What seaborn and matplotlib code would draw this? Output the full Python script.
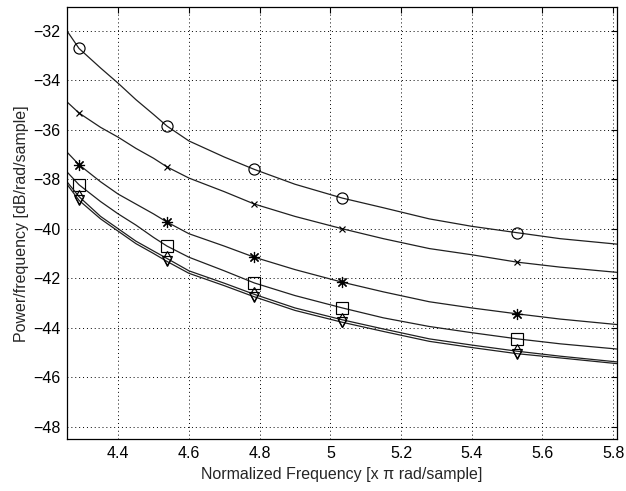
import numpy as np
import pandas as pd
import matplotlib
matplotlib.use("Agg")
import matplotlib.pyplot as plt
import seaborn as sns

# Frequency points (x pi rad/sample)
freq = [4.255, 4.289, 4.35, 4.40, 4.45, 4.50, 4.538, 4.60, 4.70, 4.785,
        4.90, 5.034, 5.15, 5.28, 5.40, 5.529, 5.65, 5.81]

# PSD curves (dB/rad/sample)
psd_circle = [-32.0, -32.71, -33.5, -34.12, -34.78, -35.38, -35.85, -36.45, -37.1, -37.6,
              -38.2, -38.76, -39.15, -39.6, -39.9, -40.16, -40.4, -40.62]
psd_x = [-34.87, -35.32, -35.9, -36.3, -36.75, -37.15, -37.5, -37.95, -38.5, -39.0,
         -39.5, -40.0, -40.4, -40.8, -41.05, -41.35, -41.55, -41.76]
psd_star = [-36.9, -37.41, -38.1, -38.6, -39.0, -39.4, -39.73, -40.2, -40.7, -41.15,
            -41.65, -42.16, -42.55, -42.95, -43.2, -43.44, -43.65, -43.87]
psd_square = [-37.7, -38.22, -38.9, -39.4, -39.85, -40.35, -40.7, -41.15, -41.7, -42.19,
              -42.7, -43.2, -43.6, -43.95, -44.2, -44.45, -44.65, -44.86]
psd_diamond = [-38.1, -38.7, -39.5, -40.0, -40.5, -40.9, -41.2, -41.7, -42.2, -42.65,
               -43.2, -43.68, -44.05, -44.45, -44.7, -44.95, -45.15, -45.38]
psd_triangle = [-38.2, -38.85, -39.6, -40.1, -40.6, -41.0, -41.32, -41.8, -42.3, -42.75,
                -43.3, -43.78, -44.15, -44.55, -44.8, -45.05, -45.22, -45.45]

series = [
    (psd_circle, "o", 8),
    (psd_x, "x", 4),
    (psd_star, (8, 2, 0), 8),
    (psd_square, "s", 8),
    (psd_diamond, "d", 7),
    (psd_triangle, "v", 7),
]
marker_idx = [1, 6, 9, 11, 15]

xticks = [4.4, 4.6, 4.8, 5.0, 5.2, 5.4, 5.6, 5.8]
xtick_labels = ["4.4", "4.6", "4.8", "5", "5.2", "5.4", "5.6", "5.8"]
yticks = [-48, -46, -44, -42, -40, -38, -36, -34, -32]

sns.set_style("white")
plt.rcParams["font.family"] = ["Liberation Sans", "DejaVu Sans"]

fig = plt.figure(figsize=(6.26, 4.91), dpi=100)
ax = fig.add_axes([0.107, 0.1053, 0.8786, 0.8797])

for vals, mk, ms in series:
    df = pd.DataFrame({"f": freq, "p": vals})
    sns.lineplot(data=df, x="f", y="p", ax=ax, color="#202020", lw=0.9,
                 marker=mk, markevery=marker_idx, markersize=ms,
                 markerfacecolor="none", markeredgecolor="k", markeredgewidth=0.85)

ax.set_xlim(4.255, 5.811)
ax.set_ylim(-48.51, -31.05)
ax.set_xticks(xticks)
ax.set_xticklabels(xtick_labels)
ax.set_yticks(yticks)
ax.grid(True, color="k", linestyle=(0, (1, 3)), lw=0.7)
ax.tick_params(direction="in", length=4, width=0.8, top=True, right=True,
               labelsize=11.5, colors="k", pad=4.5)
for s in ax.spines.values():
    s.set_color("k")
    s.set_linewidth(0.9)

ax.set_xlabel("Normalized Frequency [x \u03c0 rad/sample]", fontsize=11.5, labelpad=5)
ax.set_ylabel("Power/frequency [dB/rad/sample]", fontsize=11.5, labelpad=3)

fig.savefig("out.png", dpi=100)
